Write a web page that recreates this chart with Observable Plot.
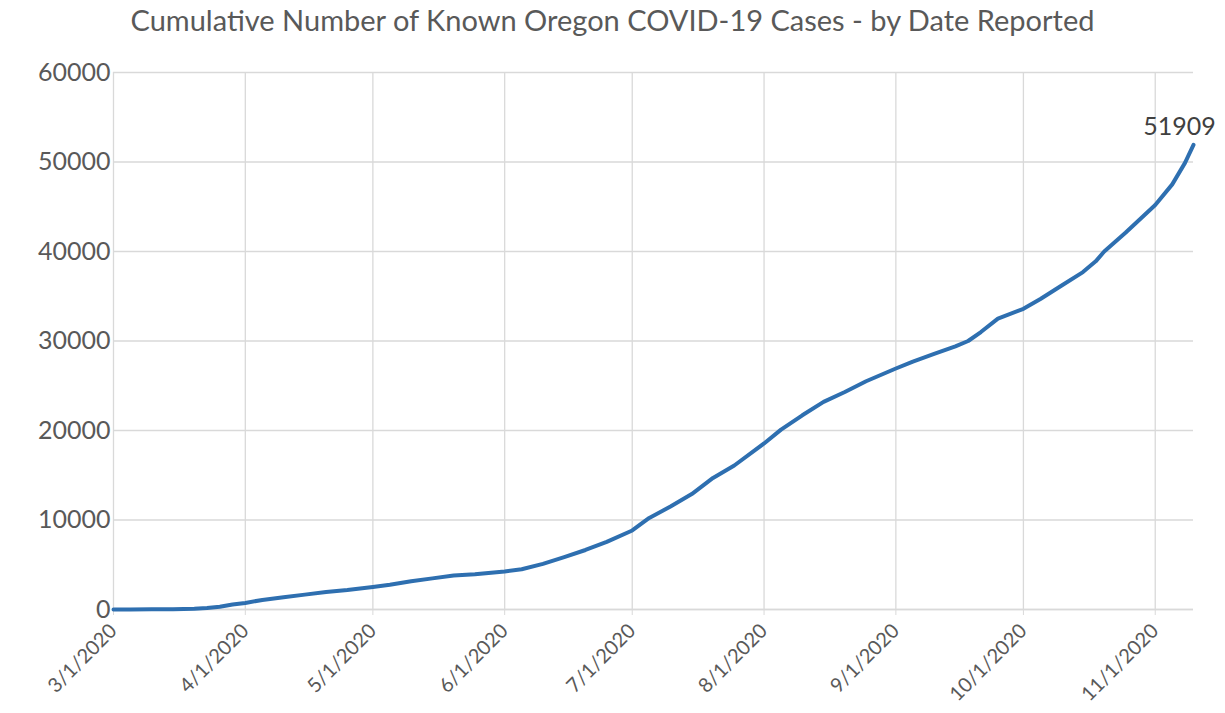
<!DOCTYPE html>
<html>
<head>
<meta charset="utf-8">
<script src="https://cdn.jsdelivr.net/npm/d3@7"></script>
<script src="https://cdn.jsdelivr.net/npm/@observablehq/plot@0.6"></script>
<style>
  html, body { margin: 0; padding: 0; background: #fff; }
  #wrap { position: relative; width: 1225px; height: 713px; font-family: Lato, "Open Sans", sans-serif; }
  #title { position: absolute; left: 0; top: 2px; width: 1225px; text-align: center; font-size: 29px; color: #595959; line-height: 36px; }
  #chart { position: absolute; left: 0; top: 50px; }
</style>
</head>
<body>
<div id="wrap">
  <div id="title">Cumulative Number of Known Oregon COVID-19 Cases - by Date Reported</div>
  <div id="chart"></div>
</div>
<script>
const titleText = "Cumulative Number of Known Oregon COVID-19 Cases - by Date Reported";
const dates = ["2020-03-01","2020-03-05","2020-03-10","2020-03-15","2020-03-20","2020-03-23","2020-03-26","2020-03-29",
  "2020-04-01","2020-04-05","2020-04-10","2020-04-15","2020-04-20","2020-04-25",
  "2020-05-01","2020-05-05","2020-05-10","2020-05-15","2020-05-20","2020-05-25",
  "2020-06-01","2020-06-05","2020-06-10","2020-06-15","2020-06-20","2020-06-25",
  "2020-07-01","2020-07-05","2020-07-10","2020-07-15","2020-07-20","2020-07-25",
  "2020-08-01","2020-08-05","2020-08-10","2020-08-15","2020-08-20","2020-08-25",
  "2020-09-01","2020-09-05","2020-09-10","2020-09-15","2020-09-18","2020-09-21","2020-09-25",
  "2020-10-01","2020-10-05","2020-10-10","2020-10-15","2020-10-18","2020-10-20","2020-10-25",
  "2020-11-01","2020-11-05","2020-11-08","2020-11-10"];
const cases = [0,3,15,39,88,161,316,548,
  736,1068,1371,1663,1956,2177,
  2510,2759,3160,3479,3801,3949,
  4250,4500,5100,5850,6650,7550,
  8830,10230,11500,12900,14700,16090,
  18550,20100,21700,23200,24300,25500,
  26930,27700,28550,29400,30000,31000,32500,
  33600,34700,36200,37700,38900,40000,42100,
  45200,47500,49900,51909];
const yTicks = [0,10000,20000,30000,40000,50000,60000];
const xTickDates = ["2020-03-01","2020-04-01","2020-05-01","2020-06-01","2020-07-01","2020-08-01","2020-09-01","2020-10-01","2020-11-01"];

const parse = d3.utcParse("%Y-%m-%d");
const data = dates.map((d, i) => ({date: parse(d), cases: cases[i]}));
const xTicks = xTickDates.map(parse);
const last = data[data.length - 1];
const fmt = d => `${d.getUTCMonth() + 1}/${d.getUTCDate()}/${d.getUTCFullYear()}`;

const chart = Plot.plot({
  width: 1225,
  height: 663,
  marginTop: 22,
  marginBottom: 104,
  marginLeft: 113,
  marginRight: 32,
  style: {fontFamily: "Lato, 'Open Sans', sans-serif", color: "#595959", background: "#fff"},
  x: {type: "utc", domain: [parse("2020-03-01"), parse("2020-11-10")], ticks: xTicks, tickFormat: fmt},
  y: {domain: [0, 60000], ticks: yTicks},
  marks: [
    Plot.gridY(yTicks, {stroke: "#d9d9d9", strokeOpacity: 1, strokeWidth: 1.3}),
    Plot.gridX(xTicks, {stroke: "#d9d9d9", strokeOpacity: 1, strokeWidth: 1.3}),
    Plot.axisX({ticks: xTicks, tickFormat: fmt, tickRotate: -45, tickSize: 6, tickPadding: 12, stroke: "#d9d9d9", fontSize: 20, fill: "#595959", label: null}),
    Plot.axisY({ticks: yTicks, tickSize: 0, tickPadding: 3, fontSize: 25, fill: "#595959", label: null, tickFormat: d => String(d)}),
    Plot.ruleY([0], {stroke: "#d9d9d9", strokeWidth: 1.5}),
    Plot.line(data, {x: "date", y: "cases", stroke: "#2e6fb0", strokeWidth: 4, strokeLinejoin: "round"}),
    Plot.text([last], {x: "date", y: "cases", text: d => String(d.cases), dy: -18, dx: -14, fontSize: 25, fill: "#404040", textAnchor: "middle"})
  ]
});
document.getElementById("chart").appendChild(chart);
</script>
</body>
</html>
